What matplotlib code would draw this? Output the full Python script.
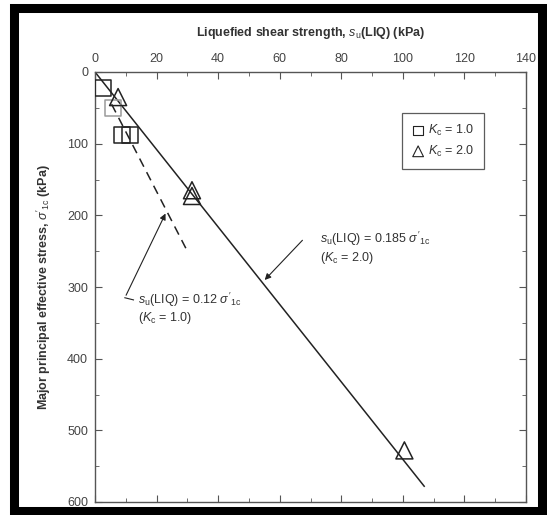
import numpy as np
import matplotlib.pyplot as plt
from matplotlib.patches import Rectangle

plt.rcParams['font.family'] = ['Liberation Sans', 'DejaVu Sans']
plt.rcParams['mathtext.fontset'] = 'custom'
plt.rcParams['mathtext.rm'] = 'Liberation Sans'
plt.rcParams['mathtext.it'] = 'Liberation Sans:italic'
plt.rcParams['mathtext.bf'] = 'Liberation Sans:bold'

# test results, su(LIQ) in kPa vs sigma'1c in kPa
su_kc1 = [2.5, 5.8, 8.8, 11.4]
sig_kc1 = [22, 50, 88, 88]
su_kc2 = [7.5, 31.5, 31.5, 100.5]
sig_kc2 = [35, 165, 173, 528]

# fitted ratios su(LIQ)/sigma'1c
ratio_kc2 = 0.185
ratio_kc1 = 0.12
sig_fit2 = [0, 578]
sig_fit1 = [45, 250]

fig = plt.figure(figsize=(5.47, 5.15), dpi=100)
ax = fig.add_axes([95 / 547, 13 / 515, 431 / 547, 430 / 515])

ink = '#222222'
txt = '#333333'
fs = 9

ax.plot(np.array(sig_fit2) * ratio_kc2, sig_fit2, color=ink, lw=1.1)
ax.plot(np.array(sig_fit1) * ratio_kc1, sig_fit1, color=ink, lw=1.1, ls=(0, (6, 4)))

edge1 = [ink, '#9a9a9a', ink, ink]
ax.scatter(su_kc1, sig_kc1, marker='s', s=130, facecolors='none',
           edgecolors=edge1, linewidths=1.1, zorder=3)
ax.scatter(su_kc2, sig_kc2, marker='^', s=150, facecolors='none',
           edgecolors=ink, linewidths=1.1, zorder=3)

ax.set_xlim(0, 140)
ax.set_ylim(600, 0)
ax.set_xticks(np.arange(0, 141, 20))
ax.set_xticks(np.arange(0, 141, 10), minor=True)
ax.set_yticks(np.arange(0, 601, 100))
ax.set_yticks(np.arange(0, 601, 50), minor=True)
ax.xaxis.tick_top()
ax.xaxis.set_label_position('top')
ax.tick_params(which='both', direction='in', top=True, bottom=True, left=True,
               right=True, labelsize=fs, labelcolor='#444444', color='#555555')
ax.tick_params(which='major', length=5, pad=5)
ax.tick_params(which='minor', length=3)
for s in ax.spines.values():
    s.set_color('#555555')
    s.set_linewidth(1.0)

ax.set_xlabel(r"Liquefied shear strength, $s_\mathrm{u}$(LIQ) (kPa)",
              fontsize=fs, fontweight='bold', color=txt, labelpad=12)
ax.set_ylabel(r"Major principal effective stress, $\sigma'_\mathrm{1c}$ (kPa)",
              fontsize=fs, fontweight='bold', color=txt, labelpad=10)

# legend
h1 = ax.scatter([], [], marker='s', s=45, facecolors='none', edgecolors=ink, linewidths=0.8)
h2 = ax.scatter([], [], marker='^', s=60, facecolors='none', edgecolors=ink, linewidths=0.8)
leg = ax.legend([h1, h2], [r"$K_\mathrm{c}$ = 1.0", r"$K_\mathrm{c}$ = 2.0"],
                loc='upper left', bbox_to_anchor=(0.712, 0.905), fontsize=fs,
                frameon=True, fancybox=False, handletextpad=0.3, borderpad=0.8,
                labelspacing=0.45, handlelength=1.0, borderaxespad=0)
leg.get_frame().set_edgecolor(txt)
leg.get_frame().set_linewidth(0.9)
for t in leg.get_texts():
    t.set_color(txt)

# annotations
ax.annotate("", xy=(54.5, 293), xytext=(68, 232),
            arrowprops=dict(arrowstyle='-|>', color=ink, lw=0.8, mutation_scale=9))
ax.text(73, 245, r"$s_\mathrm{u}$(LIQ) = 0.185 $\sigma'_\mathrm{1c}$" + "\n" + r"($K_\mathrm{c}$ = 2.0)",
        fontsize=fs, color=txt, va='center', ha='left', linespacing=1.15)

ax.plot([12.5, 9.7], [318, 315], color=ink, lw=0.8)
ax.annotate("", xy=(23.3, 194), xytext=(9.7, 315),
            arrowprops=dict(arrowstyle='-|>', color=ink, lw=0.8, mutation_scale=9))
ax.text(14, 330, r"$s_\mathrm{u}$(LIQ) = 0.12 $\sigma'_\mathrm{1c}$" + "\n" + r"($K_\mathrm{c}$ = 1.0)",
        fontsize=fs, color=txt, va='center', ha='left', linespacing=1.15)

# black border round the figure
fig.patches.append(Rectangle((14 / 547, 4 / 515), 528 / 547, 503 / 515,
                             transform=fig.transFigure, fill=False,
                             edgecolor='black', linewidth=6.5))

fig.savefig('out.png', dpi=100)
